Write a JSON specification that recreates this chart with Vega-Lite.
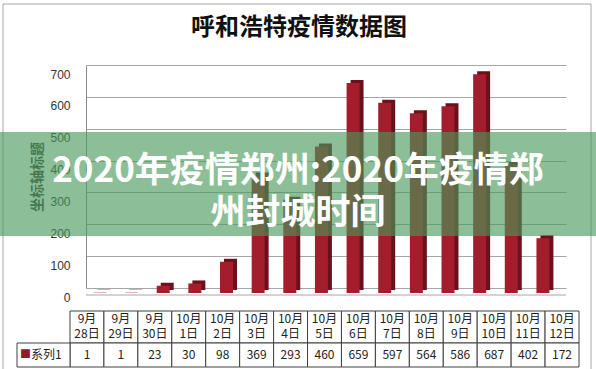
{
  "$schema": "https://vega.github.io/schema/vega-lite/v6.json",
  "width": 480,
  "height": 223,
  "autosize": "none",
  "padding": {"left": 86, "top": 65, "right": 30, "bottom": 81},
  "background": "white",
  "config": {"view": {"stroke": null}, "font": "Noto Sans CJK SC"},
  "data": {
    "values": [
      {"date": "9月\n28日", "cases": 1},
      {"date": "9月\n29日", "cases": 1},
      {"date": "9月\n30日", "cases": 23},
      {"date": "10月\n1日", "cases": 30},
      {"date": "10月\n2日", "cases": 98},
      {"date": "10月\n3日", "cases": 369},
      {"date": "10月\n4日", "cases": 293},
      {"date": "10月\n5日", "cases": 460},
      {"date": "10月\n6日", "cases": 659},
      {"date": "10月\n7日", "cases": 597},
      {"date": "10月\n8日", "cases": 564},
      {"date": "10月\n9日", "cases": 586},
      {"date": "10月\n10日", "cases": 687},
      {"date": "10月\n11日", "cases": 402},
      {"date": "10月\n12日", "cases": 172}
    ]
  },
  "resolve": {"scale": {"x": "independent", "y": "independent"}},
  "layer": [
    {
      "data": {"values": [{}]},
      "mark": {"type": "rect", "fill": null, "fillOpacity": 0, "stroke": "#a6a6a6", "strokeWidth": 1},
      "encoding": {
        "x": {"datum": 3, "type": "quantitative", "scale": {"domain": [0, 596], "range": [-86, 510], "zero": false, "nice": false}, "axis": null},
        "x2": {"datum": 591},
        "y": {"datum": 4, "type": "quantitative", "scale": {"domain": [0, 369], "range": [-65, 304], "zero": false, "nice": false}, "axis": null},
        "y2": {"datum": 376}
      }
    },
    {
      "data": {"values": [{}]},
      "mark": {"type": "text", "text": "呼和浩特疫情数据图", "fontSize": 24, "fontWeight": "bold", "color": "#111111", "align": "center", "baseline": "middle"},
      "encoding": {
        "x": {"datum": 299, "type": "quantitative", "scale": {"domain": [0, 596], "range": [-86, 510], "zero": false, "nice": false}, "axis": null},
        "y": {"datum": 28, "type": "quantitative", "scale": {"domain": [0, 369], "range": [-65, 304], "zero": false, "nice": false}, "axis": null}
      }
    },
    {
      "data": {"values": [{}]},
      "mark": {"type": "rule", "color": "#a6a6a6", "yOffset": 7},
      "encoding": {
        "y": {"datum": 0, "type": "quantitative", "scale": {"domain": [0, 700], "nice": false}, "axis": null}
      }
    },
    {
      "mark": {"type": "bar", "color": "#6b111c", "xOffset": 4, "yOffset": 2, "y2Offset": 2},
      "encoding": {
        "x": {"field": "date", "type": "nominal", "sort": null, "scale": {"paddingInner": 0.59, "paddingOuter": 0.38, "align": 0.31}, "axis": null},
        "y": {"field": "cases", "type": "quantitative", "scale": {"domain": [0, 700], "nice": false}, "axis": null}
      }
    },
    {
      "mark": {"type": "bar", "color": "#a31d2d", "yOffset": 5, "y2Offset": 5},
      "encoding": {
        "x": {"field": "date", "type": "nominal", "sort": null, "scale": {"paddingInner": 0.59, "paddingOuter": 0.38, "align": 0.31}, "axis": null},
        "y": {
          "field": "cases", "type": "quantitative",
          "scale": {"domain": [0, 700], "nice": false},
          "axis": {
            "values": [0, 100, 200, 300, 400, 500, 600, 700],
            "grid": true, "gridColor": "#a6a6a6", "gridWidth": 1,
            "ticks": false, "domain": true, "domainColor": "#8c8c8c",
            "labelPadding": 16, "labelOffset": 9,
            "labelFont": "Liberation Sans", "labelFontSize": 12, "labelColor": "#333333",
            "title": "坐标轴标题", "titleFontSize": 14, "titleFontWeight": "bold", "titleColor": "#404040", "titlePadding": 5
          }
        }
      }
    },
    {
      "mark": {"type": "rect", "fill": "white", "stroke": "#404040", "strokeWidth": 1},
      "encoding": {
        "x": {"field": "date", "type": "nominal", "sort": null, "scale": {"range": [-16, 493], "paddingInner": 0, "paddingOuter": 0}, "axis": null},
        "y": {"datum": 311, "type": "quantitative", "scale": {"domain": [0, 369], "range": [-65, 304], "zero": false, "nice": false}, "axis": null},
        "y2": {"datum": 343}
      }
    },
    {
      "mark": {"type": "rect", "fill": "white", "stroke": "#404040", "strokeWidth": 1},
      "encoding": {
        "x": {"field": "date", "type": "nominal", "sort": null, "scale": {"range": [-16, 493], "paddingInner": 0, "paddingOuter": 0}, "axis": null},
        "y": {"datum": 343, "type": "quantitative", "scale": {"domain": [0, 369], "range": [-65, 304], "zero": false, "nice": false}, "axis": null},
        "y2": {"datum": 367}
      }
    },
    {
      "mark": {"type": "text", "fontSize": 12, "color": "#222222", "align": "center", "baseline": "middle", "lineBreak": "\n", "lineHeight": 15},
      "encoding": {
        "x": {"field": "date", "type": "nominal", "sort": null, "scale": {"range": [-16, 493], "paddingInner": 0, "paddingOuter": 0}, "axis": null},
        "y": {"datum": 319, "type": "quantitative", "scale": {"domain": [0, 369], "range": [-65, 304], "zero": false, "nice": false}, "axis": null},
        "text": {"field": "date"}
      }
    },
    {
      "mark": {"type": "text", "fontSize": 12, "color": "#222222", "align": "center", "baseline": "middle"},
      "encoding": {
        "x": {"field": "date", "type": "nominal", "sort": null, "scale": {"range": [-16, 493], "paddingInner": 0, "paddingOuter": 0}, "axis": null},
        "y": {"datum": 355, "type": "quantitative", "scale": {"domain": [0, 369], "range": [-65, 304], "zero": false, "nice": false}, "axis": null},
        "text": {"field": "cases", "type": "quantitative"}
      }
    },
    {
      "data": {"values": [{}]},
      "mark": {"type": "rect", "fill": "white", "stroke": "#404040", "strokeWidth": 1},
      "encoding": {
        "x": {"datum": 17, "type": "quantitative", "scale": {"domain": [0, 596], "range": [-86, 510], "zero": false, "nice": false}, "axis": null},
        "x2": {"datum": 70},
        "y": {"datum": 343, "type": "quantitative", "scale": {"domain": [0, 369], "range": [-65, 304], "zero": false, "nice": false}, "axis": null},
        "y2": {"datum": 367}
      }
    },
    {
      "data": {"values": [{}]},
      "mark": {"type": "text", "text": "■", "fontSize": 11, "color": "#8b1c2b", "align": "left", "baseline": "middle"},
      "encoding": {
        "x": {"datum": 20, "type": "quantitative", "scale": {"domain": [0, 596], "range": [-86, 510], "zero": false, "nice": false}, "axis": null},
        "y": {"datum": 355, "type": "quantitative", "scale": {"domain": [0, 369], "range": [-65, 304], "zero": false, "nice": false}, "axis": null}
      }
    },
    {
      "data": {"values": [{}]},
      "mark": {"type": "text", "text": "系列1", "fontSize": 12, "color": "#222222", "align": "left", "baseline": "middle"},
      "encoding": {
        "x": {"datum": 31, "type": "quantitative", "scale": {"domain": [0, 596], "range": [-86, 510], "zero": false, "nice": false}, "axis": null},
        "y": {"datum": 355, "type": "quantitative", "scale": {"domain": [0, 369], "range": [-65, 304], "zero": false, "nice": false}, "axis": null}
      }
    },
    {
      "data": {"values": [{}]},
      "mark": {"type": "rect", "fill": "#49985a", "fillOpacity": 0.63},
      "encoding": {
        "x": {"datum": 0, "type": "quantitative", "scale": {"domain": [0, 596], "range": [-86, 510], "zero": false, "nice": false}, "axis": null},
        "x2": {"datum": 596},
        "y": {"datum": 132, "type": "quantitative", "scale": {"domain": [0, 369], "range": [-65, 304], "zero": false, "nice": false}, "axis": null},
        "y2": {"datum": 236}
      }
    },
    {
      "data": {"values": [{}]},
      "mark": {"type": "text", "text": ["2020年疫情郑州:2020年疫情郑", "州封城时间"], "fontSize": 35, "fontWeight": "bold", "color": "white", "align": "center", "baseline": "middle", "lineHeight": 42},
      "encoding": {
        "x": {"datum": 298, "type": "quantitative", "scale": {"domain": [0, 596], "range": [-86, 510], "zero": false, "nice": false}, "axis": null},
        "y": {"datum": 171, "type": "quantitative", "scale": {"domain": [0, 369], "range": [-65, 304], "zero": false, "nice": false}, "axis": null}
      }
    }
  ]
}
